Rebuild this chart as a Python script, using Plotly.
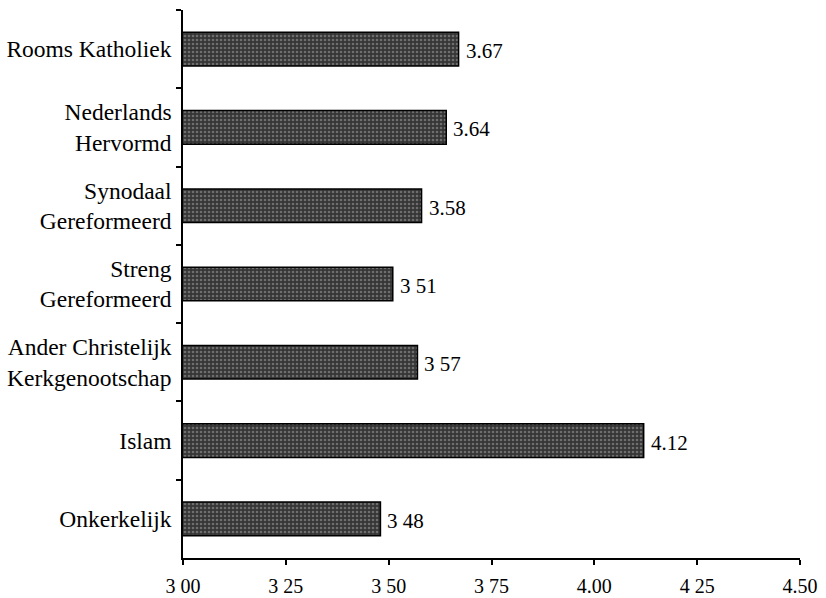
import plotly.graph_objects as go

categories = ["Rooms Katholiek", "Nederlands<br>Hervormd", "Synodaal<br>Gereformeerd",
              "Streng<br>Gereformeerd", "Ander Christelijk<br>Kerkgenootschap", "Islam", "Onkerkelijk"]
values = [3.67, 3.64, 3.58, 3.51, 3.57, 4.12, 3.48]
value_labels = ["3.67", "3.64", "3.58", "3 51", "3 57", "4.12", "3 48"]
tick_vals = [3.00, 3.25, 3.50, 3.75, 4.00, 4.25, 4.50]
tick_text = ["3 00", "3 25", "3 50", "3 75", "4.00", "4 25", "4.50"]

FONT = "Liberation Serif, Times New Roman, serif"

fig = go.Figure(go.Bar(
    y=categories, x=values, orientation="h",
    width=0.43,
    marker=dict(color="#353535", line=dict(color="#000000", width=1.5),
                pattern=dict(shape=".", fgcolor="#a8a8a8", size=4, solidity=0.35)),
))

for c, v, t in zip(categories, values, value_labels):
    fig.add_annotation(x=v, y=c, text=t, showarrow=False, xanchor="left",
                       xshift=5, yshift=-2, font=dict(family=FONT, size=21, color="#000000"))

fig.update_layout(
    width=826, height=598,
    margin=dict(l=183, r=26, t=10, b=40),
    plot_bgcolor="white", paper_bgcolor="white",
    font=dict(family=FONT, size=23, color="#000000"),
    showlegend=False,
)
fig.update_xaxes(range=[3.0, 4.5], tickvals=tick_vals, ticktext=tick_text,
                 showline=True, linecolor="black", linewidth=1.5,
                 ticks="outside", ticklen=5, tickcolor="black", tickwidth=1.5,
                 showgrid=False, zeroline=False, ticklabelstandoff=4, automargin=False,
                 tickfont=dict(family=FONT, size=20))
fig.update_yaxes(autorange="reversed", showline=True, linecolor="black", linewidth=1.5,
                 ticks="outside", ticklen=5, tickcolor="black", tickwidth=1.5,
                 tickson="boundaries", showgrid=False, automargin=False, ticklabelstandoff=5,
                 tickfont=dict(family=FONT, size=23.5))

fig.write_html("out.html", config={"displayModeBar": False},
               post_script="document.body.style.margin='0';document.body.style.overflow='hidden';")
